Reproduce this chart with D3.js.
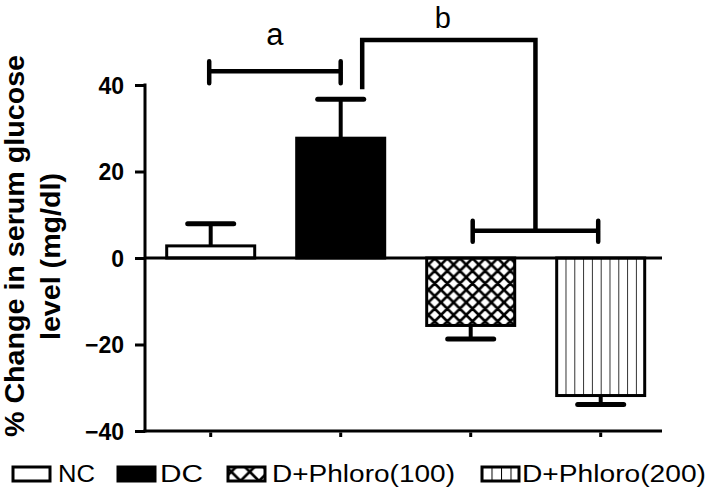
<!DOCTYPE html>
<html><head><meta charset="utf-8">
<script src="https://cdn.jsdelivr.net/npm/d3@7"></script>
<style>body{margin:0;background:#fff}svg{display:block}</style>
</head><body>
<svg id="c" width="709" height="491"></svg>
<script>
const categories = ["NC", "DC", "D+Phloro(100)", "D+Phloro(200)"];
const means = [2.8, 27.7, -15.6, -31.8];
const errors = [5.1, 9.0, 3.1, 2.1];
const yTicks = [-40, -20, 0, 20, 40];
const fills = ["none", "solid", "cross", "vert"];
const sigLabels = ["a", "b"];
// bracket levels (in data units)
const bracketA = {from: 0, to: 1, level: 43.2};
const bracketB = {level: 50.4, leftEnd: 39, lowLevel: 6.3, groupFrom: 2, groupTo: 3};

const svg = d3.select("#c");
const y = d3.scaleLinear().domain([-40, 40]).range([431, 85]);
const x = d3.scaleBand().domain(categories).range([145.7, 665.7]).paddingInner(0.323).paddingOuter(0.1615);
const cx = c => x(c) + x.bandwidth() / 2;

const defs = svg.append("defs");
function crossPat(id, s, sw) {
  const p = defs.append("pattern").attr("id", id).attr("patternUnits", "userSpaceOnUse")
    .attr("width", s).attr("height", s);
  p.append("rect").attr("width", s).attr("height", s).attr("fill", "#fff");
  p.append("path").attr("d", `M0,0L${s},${s}M${s},0L0,${s}M${-s/2},${s/2}L${s/2},${s*1.5}M${s/2},${-s/2}L${s*1.5},${s/2}M${s/2},${-s/2}L${-s/2},${s/2}M${s*1.5},${s/2}L${s/2},${s*1.5}`)
    .attr("stroke", "#000").attr("stroke-width", sw);
}
function vertPat(id, s, sw, ox) {
  const p = defs.append("pattern").attr("id", id).attr("patternUnits", "userSpaceOnUse")
    .attr("width", s).attr("height", 10).attr("x", ox);
  p.append("rect").attr("width", s).attr("height", 10).attr("fill", "#fff");
  p.append("line").attr("x1", 0).attr("x2", 0).attr("y1", 0).attr("y2", 10)
    .attr("stroke", "#000").attr("stroke-width", sw);
}
crossPat("cross", 12.6, 2.6);
vertPat("vert", 8.8, 1.6, x(categories[3]));
crossPat("crossL", 18.5, 2.6);
vertPat("vertL", 9.5, 2, 482);

function fillOf(f, legend) {
  if (f === "none") return "#fff";
  if (f === "solid") return "#000";
  if (f === "cross") return legend ? "url(#crossL)" : "url(#cross)";
  return legend ? "url(#vertL)" : "url(#vert)";
}

// bars
svg.append("g").selectAll("rect").data(categories).join("rect")
  .attr("x", d => x(d)).attr("width", x.bandwidth())
  .attr("y", (d, i) => Math.min(y(means[i]), y(0)))
  .attr("height", (d, i) => Math.abs(y(means[i]) - y(0)))
  .attr("fill", (d, i) => fillOf(fills[i], false))
  .attr("stroke", "#000").attr("stroke-width", 3);

// error bars
const eb = svg.append("g").attr("stroke", "#000");
categories.forEach((c, i) => {
  const end = means[i] + Math.sign(means[i]) * errors[i];
  eb.append("line").attr("x1", cx(c)).attr("x2", cx(c)).attr("y1", y(means[i])).attr("y2", y(end)).attr("stroke-width", 4);
  eb.append("line").attr("x1", cx(c) - 23).attr("x2", cx(c) + 23).attr("y1", y(end)).attr("y2", y(end))
    .attr("stroke-width", 5).attr("stroke-linecap", "round");
});

// zero line
svg.append("line").attr("x1", 145).attr("x2", 662).attr("y1", y(0)).attr("y2", y(0))
  .attr("stroke", "#000").attr("stroke-width", 3);

// y axis
const ya = svg.append("g").attr("transform", "translate(145,0)")
  .call(d3.axisLeft(y).tickValues(yTicks).tickSize(10).tickSizeOuter(0).tickFormat(d => d < 0 ? "\u2212" + Math.abs(d) : d));
ya.selectAll("path,line").attr("stroke", "#000").attr("stroke-width", 3);
ya.selectAll("text").attr("font-family", "Liberation Sans, Arial, sans-serif").attr("font-weight", "bold")
  .attr("font-size", 23).attr("fill", "#000").attr("x", -21).attr("dy", "0.36em");
ya.select(".domain").attr("d", `M0,${y(40) - 1.5}V${y(-40) + 1.5}`);

// bottom axis
const xa = svg.append("g").attr("transform", `translate(0,${y(-40)})`)
  .call(d3.axisBottom(x).tickSize(6).tickSizeOuter(0).tickFormat(""));
xa.selectAll("path,line").attr("stroke", "#000").attr("stroke-width", 3);
xa.selectAll(".tick line").attr("y1", 1.5);
xa.select(".domain").attr("d", "M143.5,0H662");

// y label
const yl = svg.append("g").attr("font-family", "Liberation Sans, Arial, sans-serif")
  .attr("font-weight", "bold").attr("font-size", 27).attr("fill", "#000");
yl.append("text").attr("transform", "rotate(-90)").attr("x", -246).attr("y", 24)
  .attr("text-anchor", "middle").attr("textLength", 382).attr("lengthAdjust", "spacingAndGlyphs")
  .text("% Change in serum glucose");
yl.append("text").attr("transform", "rotate(-90)").attr("x", -256.5).attr("y", 60)
  .attr("text-anchor", "middle").attr("textLength", 167).attr("lengthAdjust", "spacingAndGlyphs")
  .text("level (mg/dl)");

// significance brackets
const br = svg.append("g").attr("stroke", "#000").attr("stroke-width", 4.5).attr("fill", "none").attr("stroke-linecap", "round");
const ax1 = cx(categories[bracketA.from]) - 1.5, ax2 = cx(categories[bracketA.to]);
br.append("path").attr("d", `M${ax1},${y(bracketA.level)}H${ax2}M${ax1},${y(bracketA.level) - 10}V${y(bracketA.level) + 12}M${ax2},${y(bracketA.level) - 10}V${y(bracketA.level) + 12}`);
const bL = cx(categories[1]) + 21.5;
const g1 = cx(categories[bracketB.groupFrom]) + 2, g2 = cx(categories[bracketB.groupTo]) - 2.5;
const bR = (g1 + g2) / 2;
br.append("path").attr("d", `M${bL},${y(bracketB.leftEnd)}V${y(bracketB.level)}H${bR}V${y(bracketB.lowLevel)}`).attr("stroke-linecap", "butt");
br.append("path").attr("d", `M${g1},${y(bracketB.lowLevel)}H${g2}M${g1},${y(bracketB.lowLevel) - 10}V${y(bracketB.lowLevel) + 11}M${g2},${y(bracketB.lowLevel) - 10}V${y(bracketB.lowLevel) + 11}`);

const lab = svg.append("g").attr("font-family", "Liberation Sans, Arial, sans-serif").attr("fill", "#000").attr("text-anchor", "middle");
lab.append("text").attr("x", (ax1 + ax2) / 2).attr("y", 45).attr("font-size", 31).text(sigLabels[0]);
lab.append("text").attr("x", (bL + bR) / 2 - 6).attr("y", 28).attr("font-size", 29).text(sigLabels[1]);

// legend
const legBoxX = [13, 118, 228, 482];
const legTextX = [58, 160, 272, 522];
const legTextW = [37, 43, 183, 184];
const lg = svg.append("g");
categories.forEach((c, i) => {
  lg.append("rect").attr("x", legBoxX[i]).attr("y", 467).attr("width", 37).attr("height", 14)
    .attr("fill", fillOf(fills[i], true)).attr("stroke", "#000").attr("stroke-width", 3);
  lg.append("text").attr("x", legTextX[i]).attr("y", 482).attr("font-family", "Liberation Sans, Arial, sans-serif")
    .attr("font-size", 23).attr("fill", "#000").attr("textLength", legTextW[i]).attr("lengthAdjust", "spacingAndGlyphs").text(c);
});
</script>
</body></html>
